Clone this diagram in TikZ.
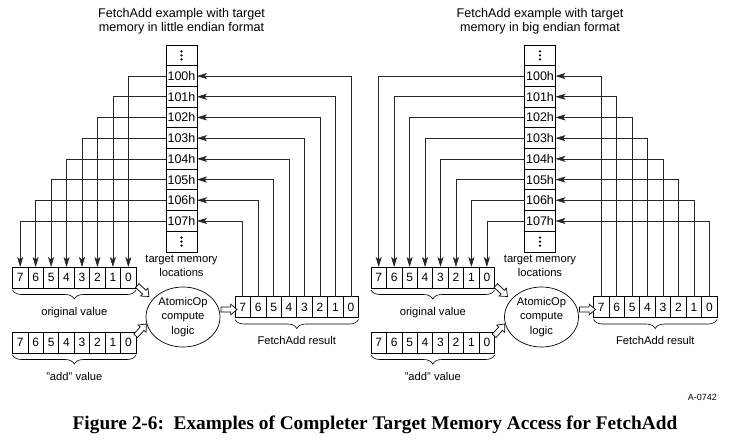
\documentclass[tikz,border=0pt]{standalone}
\usepackage{fontspec}
\setmainfont{Liberation Sans}
\newfontfamily\capfont{Liberation Serif}
\usetikzlibrary{positioning,shapes.geometric,shapes.arrows,arrows.meta,decorations.pathreplacing}
\tikzset{
  cell/.style={draw, line width=0.9pt, minimum width=31pt, minimum height=20.7pt, inner sep=0pt, outer sep=0pt,
    font=\fontsize{12.5}{14}\selectfont},
  bitbox/.style={draw, line width=0.7pt, minimum width=15.45pt, minimum height=21pt, inner sep=0pt, outer sep=0pt,
    font=\fontsize{12}{14}\selectfont},
  wire/.style={line width=0.6pt, color=black!85, -{Stealth[length=10pt,width=6pt,inset=2.5pt]}},
  brc/.style={decorate, decoration={brace, mirror, amplitude=9pt, raise=2pt}, line width=0.6pt},
  lbl/.style={midway, below=19pt, inner sep=0pt},
  hollow/.style={single arrow, draw, fill=white, line width=0.7pt, minimum height=16pt, inner sep=2.2pt,
    single arrow head extend=2.8pt, single arrow tip angle=80, single arrow head indent=0pt},
  alu/.style={ellipse, draw, line width=0.7pt, minimum width=74pt, minimum height=60pt, inner sep=0pt, align=center}
}
\begin{document}
\begin{tikzpicture}[x=1pt,y=-1pt,font=\fontsize{11.2}{14.5}\selectfont]
\useasboundingbox (0,0) rectangle (734,442);
\fill[white] (0,0) rectangle (734,442);
\foreach \p/\dx/\big/\e in {L/0/0/little,R/358.5/1/big}{
\begin{scope}[xshift=\dx]
% memory column
\node[cell] (\p0) at (181.5,55.35) {};
\foreach \i/\t in {1/100h,2/101h,3/102h,4/103h,5/104h,6/105h,7/106h,8/107h}
  \node[cell] (\p\i) at (181.5,{55.35+20.7*\i}) {\t};
\node[cell] (\p9) at (181.5,241.65) {};
\foreach \c in {\p0,\p9} \foreach \k in {-4,0,4} \fill ([yshift=\k pt]\c) circle (1.3);
\node[above=11pt of \p0, align=center, inner sep=0pt, font=\fontsize{12.6}{14}\selectfont] (\p title)
  {FetchAdd example with target\\memory in \e\ endian format};
\node[below=3pt of \p9, align=center, inner sep=0pt] (\p tgt) {target memory\\locations};
% registers
\foreach \b [count=\j from 0] in {7,6,5,4,3,2,1,0}{
  \node[bitbox] (\p o\b) at ({20.2+15.45*\j},277.5) {\b};
  \node[bitbox] (\p a\b) at ({20.2+15.45*\j},342.5) {\b};
  \node[bitbox] (\p r\b) at ({242.7+15.45*\j},307) {\b};
}
\draw[brc] (\p o7.south west) -- (\p o0.south east) node[lbl] {original value};
\draw[brc] (\p a7.south west) -- (\p a0.south east) node[lbl] {"add" value};
\draw[brc] (\p r7.south west) -- (\p r0.south east) node[lbl] {FetchAdd result};
\node[alu] (\p alu) at (183,317) {AtomicOp\\compute\\logic};
\node[hollow, rotate=-43] (\p h1) at (142,290) {};
\node[hollow, rotate=48] (\p h2) at (140,331) {};
\node[hollow] (\p h3) at (227.5,309.5) {};
% wires
\foreach \i in {0,...,7}{
  \pgfmathtruncatemacro\m{\i+1}
  \pgfmathtruncatemacro\b{\big*(7-\i)+(1-\big)*\i}
  \draw[wire] (\p\m.west) -| (\p o\b.north);
  \draw[wire] (\p r\b.north) |- (\p\m.east);
}
\end{scope}}
\node[anchor=east, inner sep=0pt, font=\fontsize{9}{11}\selectfont] (tag) at (717,397) {A-0742};
\node[inner sep=0pt, font=\capfont\bfseries\fontsize{19.3}{22}\selectfont] (cap) at (375,425)
  {Figure 2-6:\ \ Examples of Completer Target Memory Access for FetchAdd};
\end{tikzpicture}
\end{document}
